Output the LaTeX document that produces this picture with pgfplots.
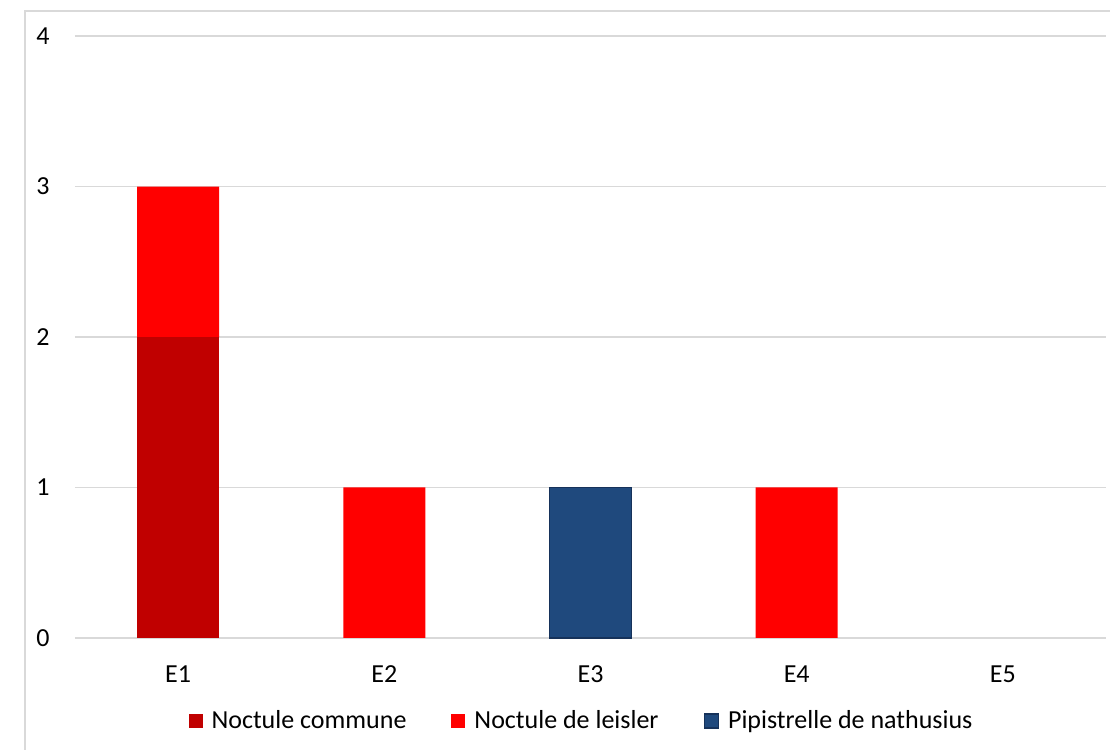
\documentclass[border=0pt]{standalone}
\usepackage{pgfplots}
\pgfplotsset{compat=1.18}
\usepackage{fontspec}
\setmainfont{Carlito}
\definecolor{commune}{HTML}{C00000}
\definecolor{leisler}{HTML}{FF0000}
\definecolor{nathusius}{HTML}{1F497D}
\definecolor{nathusiusedge}{HTML}{16325A}
\definecolor{gridgrey}{HTML}{D9D9D9}
\definecolor{framegrey}{HTML}{D9D9D9}
% square legend marker
\pgfplotsset{sqlegend/.style={legend image code/.code={\path[##1] (0pt,-3.5pt) rectangle (7pt,3.5pt);}}}
\begin{document}
\begin{tikzpicture}
\useasboundingbox (0pt,0pt) rectangle (555pt,375pt);
% chart frame
\draw[color=framegrey, line width=0.8pt] (12.5pt,-5pt) -- (12.5pt,369.5pt) -- (560pt,369.5pt);
\begin{axis}[
  at={(37.5pt,56pt)}, anchor=south west,
  scale only axis, width=515.5pt, height=301pt,
  ybar stacked, bar width=41pt,
  xmin=-0.5, xmax=4.5, ymin=0, ymax=4,
  xtick={0,1,2,3,4}, xticklabels={E1,E2,E3,E4,E5},
  ytick={0,1,2,3,4},
  ymajorgrids, grid style={color=gridgrey, line width=0.75pt},
  axis line style={draw=none}, major tick length=0pt,
  tick label style={font=\fontsize{13}{15}\selectfont},
  /pgf/number format/assume math mode=true,
  yticklabel style={anchor=center, xshift=-16pt},
  xticklabel style={anchor=center, yshift=-18pt},
  clip=false,
  legend columns=3,
  legend style={
    at={(0.4903,-0.138)}, anchor=center,
    draw=none, fill=none,
    font=\fontsize{13}{15}\selectfont,
    nodes={inner sep=0pt},
    /tikz/every odd column/.style={column sep=4.5pt},
    /tikz/every even column/.style={column sep=22.5pt},
  },
]
\addplot[fill=commune, draw=none, sqlegend]
  coordinates {(0,2) (1,0) (2,0) (3,0) (4,0)};
\addlegendentry{Noctule commune}
\addplot[fill=leisler, draw=none, sqlegend]
  coordinates {(0,1) (1,1) (2,0) (3,1) (4,0)};
\addlegendentry{Noctule de leisler}
\addplot[ybar, stack plots=false, bar shift=0pt, fill=nathusius, draw=nathusiusedge, line width=0.75pt, sqlegend]
  coordinates {(2,1)};
\addlegendentry{Pipistrelle de nathusius}
\end{axis}
\end{tikzpicture}
\end{document}
